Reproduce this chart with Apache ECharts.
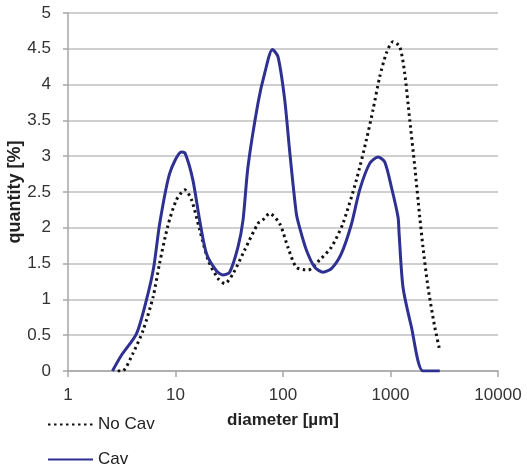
<!DOCTYPE html>
<html>
<head>
<meta charset="utf-8">
<script src="https://cdn.jsdelivr.net/npm/echarts@6/dist/echarts.min.js"></script>
<style>
  html, body { margin: 0; padding: 0; background: #fff; }
  #main { width: 527px; height: 469px; }
</style>
</head>
<body>
<div id="main"></div>
<script>
// diameter [µm] / quantity [%]
const noCavX = [2.9, 3.2, 4.0, 5.0, 6.2, 7.1, 8.5, 10.2, 12.2, 14.1, 16.8, 20.1, 24.9, 28.7, 34.3, 44, 58.5, 65, 75, 93, 111, 133, 171, 219, 282, 361, 482, 597, 688, 794, 916, 1055, 1218, 1355, 1509, 1683, 1871, 2005, 2233, 2576, 2871];
const noCavY = [0, 0, 0.24, 0.57, 1.04, 1.5, 2.03, 2.39, 2.53, 2.39, 1.97, 1.55, 1.29, 1.22, 1.36, 1.69, 2.06, 2.11, 2.2, 2.06, 1.73, 1.45, 1.41, 1.55, 1.73, 2.06, 2.67, 3.23, 3.65, 4.11, 4.44, 4.6, 4.53, 4.16, 3.51, 2.85, 2.15, 1.73, 1.17, 0.62, 0.29];

const cavX = [2.59, 3.14, 4.33, 5.36, 6.27, 7.13, 8.83, 11.35, 12.3, 14.5, 16.8, 19.4, 24, 27.7, 31.9, 38.1, 42.5, 47.2, 58.5, 67.6, 79.7, 89.8, 103.7, 115, 133, 143, 165, 197, 236, 282, 349, 433, 517, 641, 766, 883, 1019, 1175, 1202, 1307, 1563, 2005, 2871];
const cavY = [0, 0.22, 0.52, 0.99, 1.45, 2.06, 2.76, 3.06, 3.04, 2.67, 2.1, 1.64, 1.4, 1.34, 1.38, 1.73, 2.11, 2.85, 3.74, 4.16, 4.49, 4.39, 3.79, 3.09, 2.2, 2.0, 1.69, 1.45, 1.38, 1.43, 1.64, 2.05, 2.53, 2.9, 2.99, 2.92, 2.57, 2.15, 1.92, 1.17, 0.62, 0, 0];

const xTickLabels = ['1', '10', '100', '1000', '10000'];
const yMin = 0, yMax = 5, yStep = 0.5;

const pairs = (xs, ys) => xs.map((x, i) => [x, ys[i]]);

const myChart = echarts.init(document.getElementById('main'));
const font = 'Liberation Sans, Arial, sans-serif';

const option = {
  backgroundColor: '#fff',
  animation: false,
  textStyle: { fontFamily: font },
  grid: { left: 68, right: 29, top: 13, bottom: 98, containLabel: false, outerBoundsMode: 'none' },
  legend: {
    orient: 'vertical',
    left: 47,
    top: 416,
    padding: 0,
    itemWidth: 45,
    itemHeight: 14,
    itemGap: 18,
    itemStyle: { opacity: 0 },
    textStyle: { fontFamily: font, fontSize: 17, color: '#222' },
    data: ['No Cav', 'Cav']
  },
  xAxis: {
    type: 'log',
    logBase: 10,
    min: 1,
    max: 10000,
    name: 'diameter [µm]',
    nameLocation: 'middle',
    nameGap: 41,
    nameMoveOverlap: false,
    nameTextStyle: { fontFamily: font, fontSize: 17, fontWeight: 'bold', color: '#222' },
    axisLine: { lineStyle: { color: '#a6a6a6', width: 1.5 } },
    axisTick: { show: true, length: 6, lineStyle: { color: '#a6a6a6', width: 1.5 } },
    axisLabel: {
      fontFamily: font, fontSize: 17, color: '#333', margin: 16,
      formatter: v => xTickLabels[Math.round(Math.log10(v))] || ''
    },
    splitLine: { show: false }
  },
  yAxis: {
    type: 'value',
    min: yMin,
    max: yMax,
    interval: yStep,
    name: 'quantity [%]',
    nameLocation: 'middle',
    nameGap: 44,
    nameMoveOverlap: false,
    nameTextStyle: { fontFamily: font, fontSize: 18, fontWeight: 'bold', color: '#222' },
    axisLine: { show: true, lineStyle: { color: '#a6a6a6', width: 1.5 } },
    axisTick: { show: true, length: 5, lineStyle: { color: '#a6a6a6', width: 1.5 } },
    axisLabel: { fontFamily: font, fontSize: 17, color: '#333', margin: 17 },
    splitLine: { show: true, lineStyle: { color: '#bfbfbf', width: 1.5 } }
  },
  series: [
    {
      name: 'No Cav',
      type: 'line',
      symbol: 'none',
      smooth: 0.25,
      color: '#111',
      lineStyle: { color: '#111', width: 3, type: [2.5, 3.5] },
      data: pairs(noCavX, noCavY)
    },
    {
      name: 'Cav',
      type: 'line',
      symbol: 'none',
      smooth: 0.25,
      color: '#2e3192',
      lineStyle: { color: '#2e3192', width: 3 },
      data: pairs(cavX, cavY)
    }
  ]
};
myChart.setOption(option);
</script>
</body>
</html>
